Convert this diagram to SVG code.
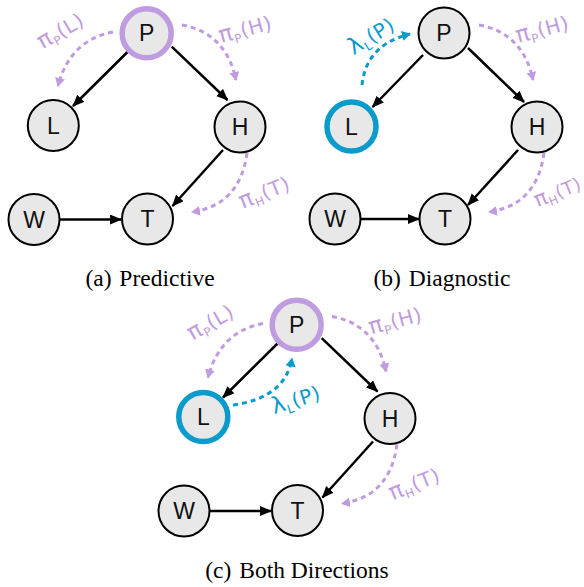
<svg xmlns="http://www.w3.org/2000/svg" width="584" height="587" viewBox="0 0 584 587">
<defs>
<marker id="ah" markerUnits="userSpaceOnUse" markerWidth="13" markerHeight="11" refX="11" refY="5" orient="auto"><path d="M0,0 L12,5 L0,10 z" fill="#000"/></marker>
<marker id="ahp" markerUnits="userSpaceOnUse" markerWidth="11" markerHeight="11" refX="8" refY="5" orient="auto"><path d="M0,0 L9,5 L0,10 z" fill="#bf9be0"/></marker>
<marker id="ahb" markerUnits="userSpaceOnUse" markerWidth="11" markerHeight="11" refX="8" refY="5" orient="auto"><path d="M0,0 L9,5 L0,10 z" fill="#0a9bcd"/></marker>
</defs>
<style>
.n{fill:#e8e8e8;stroke:#000;stroke-width:2}
.np{fill:#e8e8e8;stroke:#bf9be0;stroke-width:5.5}
.nb{fill:#e8e8e8;stroke:#0a9bcd;stroke-width:5.5}
.t{font-family:"Liberation Sans",Arial,sans-serif;font-size:23px;text-anchor:middle;dominant-baseline:central;fill:#111}
.e{stroke:#000;stroke-width:2.5;fill:none;marker-end:url(#ah)}
.dp{stroke:#bf9be0;stroke-width:3;fill:none;stroke-dasharray:5 4;marker-end:url(#ahp)}
.db{stroke:#0a9bcd;stroke-width:3;fill:none;stroke-dasharray:5 4;marker-end:url(#ahb)}
.lp{font-family:"DejaVu Sans",sans-serif;font-size:20px;fill:#bf9be0;text-anchor:middle;letter-spacing:0.5px}
.lb{font-family:"DejaVu Sans",sans-serif;font-size:20px;fill:#0a9bcd;text-anchor:middle;letter-spacing:0.5px}
.g{font-size:23px}
.s{font-size:12px}
.cap{font-family:"Liberation Serif","Times New Roman",serif;font-size:23.5px;text-anchor:middle;fill:#000}
</style>

<!-- Panel (a) -->
<g id="panel-a">
<g id="connectors-a">
<path class="e" d="M127.5,52 L73,106"/>
<path class="e" d="M171.7,46.7 L227.5,100"/>
<path class="e" d="M223,150 L172.5,206"/>
<path class="e" d="M60,219.5 L121,219.5"/>
<path class="dp" d="M113,32 Q70,40 58,86"/>
<path class="dp" d="M182,25 Q226,33 236,80"/>
<path class="dp" d="M247,153 Q240,205 192,212"/>
<text class="lp" transform="translate(64,37) rotate(-30)"><tspan class="g">π</tspan><tspan class="s" dy="4">P</tspan><tspan dy="-4">(L)</tspan></text>
<text class="lp" transform="translate(247,36) rotate(-15)"><tspan class="g">π</tspan><tspan class="s" dy="4">P</tspan><tspan dy="-4">(H)</tspan></text>
<text class="lp" transform="translate(267,199) rotate(-22)"><tspan class="g">π</tspan><tspan class="s" dy="4">H</tspan><tspan dy="-4">(T)</tspan></text>
</g>
<g id="a-P"><circle class="np" cx="146.7" cy="33.3" r="24.5"/><text class="t" x="146.7" y="33.3">P</text></g>
<g id="a-L"><circle class="n" cx="53.3" cy="125.5" r="25.5"/><text class="t" x="53.3" y="125.5">L</text></g>
<g id="a-H"><circle class="n" cx="240" cy="127" r="25.5"/><text class="t" x="240" y="127">H</text></g>
<g id="a-W"><circle class="n" cx="34" cy="219.5" r="25.5"/><text class="t" x="34" y="219.5">W</text></g>
<g id="a-T"><circle class="n" cx="147.5" cy="219" r="25.5"/><text class="t" x="147.5" y="219">T</text></g>
<text class="cap" x="150" y="286">(a)<tspan dx="2"> Predictive</tspan></text>
</g>

<!-- Panel (b) -->
<g id="panel-b" transform="translate(297,0)">
<g id="connectors-b">
<path class="e" d="M126,55 L75.5,107"/>
<path class="e" d="M171,48 L227,102"/>
<path class="e" d="M221,150 L171,205"/>
<path class="e" d="M63,219 L122,219"/>
<path class="db" d="M65,85 Q69,45 113,34"/>
<path class="dp" d="M182,25 Q226,33 236,80"/>
<path class="dp" d="M247,153 Q240,205 192,212"/>
<text class="lb" transform="translate(78,42) rotate(-32)"><tspan class="g">λ</tspan><tspan class="s" dy="4">L</tspan><tspan dy="-4">(P)</tspan></text>
<text class="lp" transform="translate(247,36) rotate(-15)"><tspan class="g">π</tspan><tspan class="s" dy="4">P</tspan><tspan dy="-4">(H)</tspan></text>
<text class="lp" transform="translate(263,198) rotate(-22)" style="font-size:18px"><tspan style="font-size:21px">π</tspan><tspan class="s" dy="4">H</tspan><tspan dy="-4">(T)</tspan></text>
</g>
<g id="b-P"><circle class="n" cx="147" cy="33" r="25.5"/><text class="t" x="147" y="33">P</text></g>
<g id="b-L"><circle class="nb" cx="54.5" cy="126.5" r="24.5"/><text class="t" x="54.5" y="126.5">L</text></g>
<g id="b-H"><circle class="n" cx="240" cy="127" r="25.5"/><text class="t" x="240" y="127">H</text></g>
<g id="b-W"><circle class="n" cx="38" cy="219" r="25.5"/><text class="t" x="38" y="219">W</text></g>
<g id="b-T"><circle class="n" cx="148" cy="219" r="25.5"/><text class="t" x="148" y="219">T</text></g>
<text class="cap" x="145" y="286">(b)<tspan dx="2"> Diagnostic</tspan></text>
</g>

<!-- Panel (c) -->
<g id="panel-c" transform="translate(150,291.5)">
<g id="connectors-c">
<path class="e" d="M127.5,52 L73,106"/>
<path class="e" d="M171.7,46.7 L227.5,100"/>
<path class="e" d="M223,150 L172.5,206"/>
<path class="e" d="M60,219.5 L121,219.5"/>
<path class="dp" d="M113,32 Q70,40 58,86"/>
<path class="dp" d="M182,25 Q226,33 236,80"/>
<path class="dp" d="M247,153 Q240,205 192,212"/>
<path class="db" d="M83,113.5 Q135,106.5 142,67"/>
<text class="lp" transform="translate(64,37) rotate(-30)"><tspan class="g">π</tspan><tspan class="s" dy="4">P</tspan><tspan dy="-4">(L)</tspan></text>
<text class="lp" transform="translate(247,36) rotate(-15)"><tspan class="g">π</tspan><tspan class="s" dy="4">P</tspan><tspan dy="-4">(H)</tspan></text>
<text class="lp" transform="translate(267,199) rotate(-22)"><tspan class="g">π</tspan><tspan class="s" dy="4">H</tspan><tspan dy="-4">(T)</tspan></text>
<text class="lb" transform="translate(148,115) rotate(-18)"><tspan class="g">λ</tspan><tspan class="s" dy="4">L</tspan><tspan dy="-4">(P)</tspan></text>
</g>
<g id="c-P"><circle class="np" cx="146.7" cy="33.3" r="24.5"/><text class="t" x="146.7" y="33.3">P</text></g>
<g id="c-L"><circle class="nb" cx="53.3" cy="125.5" r="24.5"/><text class="t" x="53.3" y="125.5">L</text></g>
<g id="c-H"><circle class="n" cx="240" cy="127" r="25.5"/><text class="t" x="240" y="127">H</text></g>
<g id="c-W"><circle class="n" cx="34" cy="219.5" r="25.5"/><text class="t" x="34" y="219.5">W</text></g>
<g id="c-T"><circle class="n" cx="147.5" cy="219" r="25.5"/><text class="t" x="147.5" y="219">T</text></g>
<text class="cap" x="147" y="286">(c)<tspan dx="2"> Both Directions</tspan></text>
</g>
</svg>
